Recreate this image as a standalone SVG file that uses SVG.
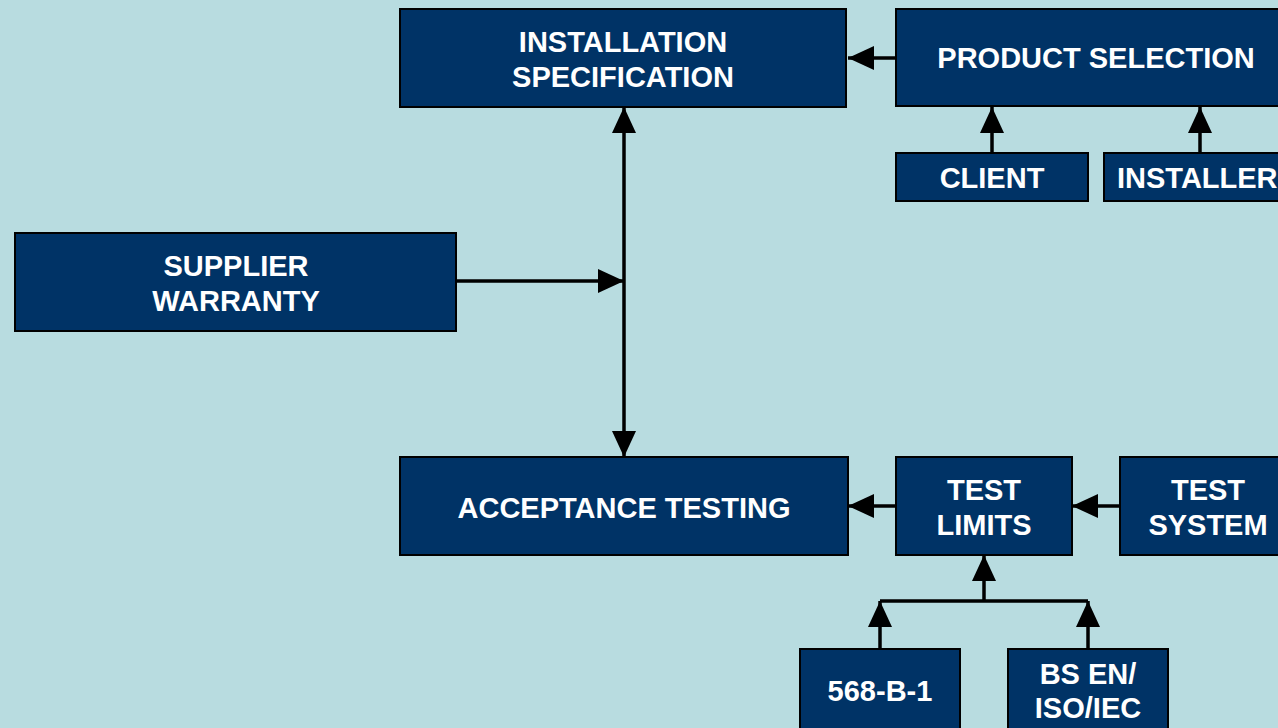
<svg xmlns="http://www.w3.org/2000/svg" width="1278" height="728" viewBox="0 0 1278 728">
<style>
.node rect{fill:#003366;stroke:#000;stroke-width:2}
.node text{fill:#fff;font-family:"Liberation Sans",Arial,sans-serif;font-weight:bold;font-size:29px;text-anchor:middle}
.conn path{fill:none;stroke:#000;stroke-width:3.5}
</style>
<defs>
<marker id="ah" markerUnits="userSpaceOnUse" markerWidth="28" markerHeight="26" refX="26" refY="12" orient="auto-start-reverse" viewBox="0 0 28 24">
<path d="M0,0 L26,12 L0,24 Z" fill="#000"/>
</marker>
</defs>
<rect x="0" y="0" width="1278" height="728" fill="#b8dce0"/>
<g class="conn">
<path d="M896,58 H848" marker-end="url(#ah)"/>
<path d="M992,153 V107" marker-end="url(#ah)"/>
<path d="M1200,153 V107" marker-end="url(#ah)"/>
<path d="M456,281 H624" marker-end="url(#ah)"/>
<path d="M624,107 V457" marker-start="url(#ah)" marker-end="url(#ah)"/>
<path d="M896,506 H848" marker-end="url(#ah)"/>
<path d="M1120,506 H1072" marker-end="url(#ah)"/>
<path d="M984,601 V555" marker-end="url(#ah)"/>
<path d="M880,601 H1088"/>
<path d="M880,649 V601" marker-end="url(#ah)"/>
<path d="M1088,649 V601" marker-end="url(#ah)"/>
</g>
<g id="installation-specification" class="node"><rect x="400" y="9" width="446" height="98"/><text x="623" y="52">INSTALLATION</text><text x="623" y="87">SPECIFICATION</text></g>
<g id="product-selection" class="node"><rect x="896" y="9" width="400" height="97"/><text x="1096" y="68">PRODUCT SELECTION</text></g>
<g id="client" class="node"><rect x="896" y="153" width="192" height="48"/><text x="992" y="188">CLIENT</text></g>
<g id="installer" class="node"><rect x="1104" y="153" width="200" height="48"/><text x="1200" y="188" style="text-anchor:start" dx="-83">INSTALLER</text></g>
<g id="supplier-warranty" class="node"><rect x="15" y="233" width="441" height="98"/><text x="236" y="276">SUPPLIER</text><text x="236" y="311">WARRANTY</text></g>
<g id="acceptance-testing" class="node"><rect x="400" y="457" width="448" height="98"/><text x="624" y="518">ACCEPTANCE TESTING</text></g>
<g id="test-limits" class="node"><rect x="896" y="457" width="176" height="98"/><text x="984" y="500">TEST</text><text x="984" y="535">LIMITS</text></g>
<g id="test-system" class="node"><rect x="1120" y="457" width="180" height="98"/><text x="1208" y="500">TEST</text><text x="1208" y="535">SYSTEM</text></g>
<g id="568-b-1" class="node"><rect x="800" y="649" width="160" height="100"/><text x="880" y="701">568-B-1</text></g>
<g id="bs-en-iso-iec" class="node"><rect x="1008" y="649" width="160" height="100"/><text x="1088" y="684">BS EN/</text><text x="1088" y="718">ISO/IEC</text></g>
</svg>
